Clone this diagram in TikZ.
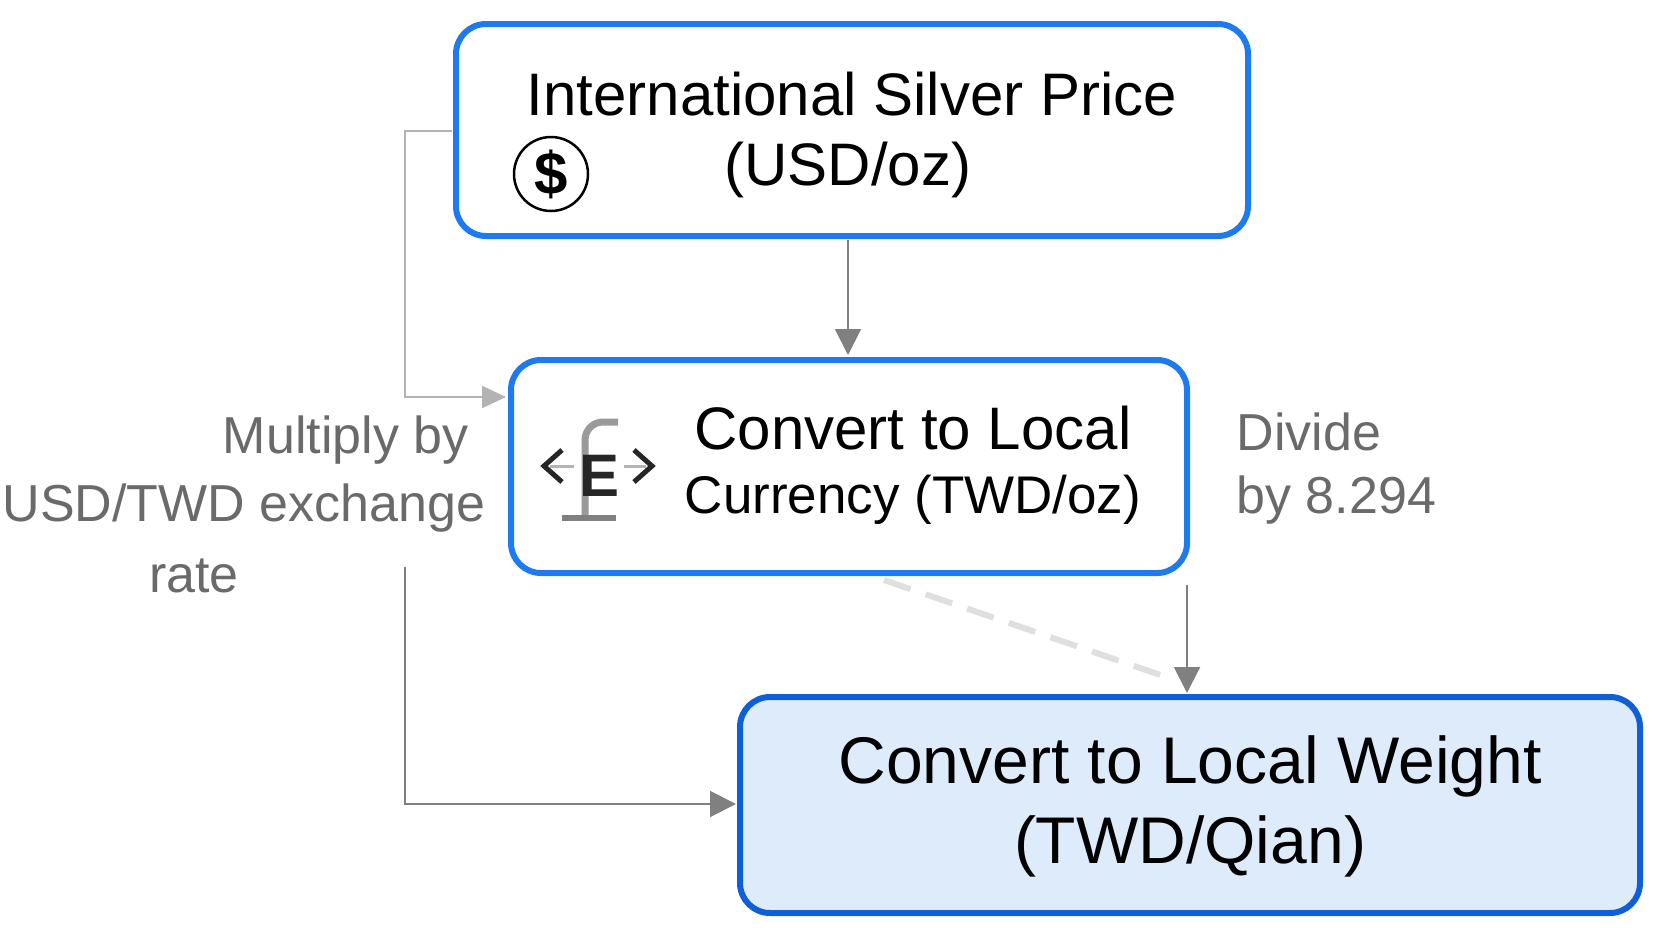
\documentclass[tikz,border=0pt]{standalone}
\usepackage{fontspec}
\setmainfont{Liberation Sans}
\usetikzlibrary{arrows.meta}
\definecolor{bblue}{HTML}{1E7BEF}
\definecolor{dblue}{HTML}{0E5FD8}
\definecolor{lfill}{HTML}{DDEBFA}
\definecolor{gline}{HTML}{808080}
\definecolor{gtext}{HTML}{6A6A6A}
\begin{document}
\begin{tikzpicture}[x=1pt,y=-1pt,
  box/.style={draw=bblue,line width=6pt,rounded corners=30pt,fill=white},
  conn/.style={draw=gline,line width=2pt,-{Triangle[length=26pt,width=26pt]}},
  lbl/.style={text=gtext,font=\fontsize{52}{64}\selectfont,align=center}]
\useasboundingbox (0,0) rectangle (1666,937);
\fill[white] (0,0) rectangle (1666,937);
% boxes
\path[box] (456,24) rectangle (1248,236);
\node (top) at (852,130) {};
\path[box] (511,360) rectangle (1187,573);
\node (mid) at (849,466) {};
\path[box,draw=dblue,fill=lfill] (740,697) rectangle (1640,913);
\node (bot) at (1190,805) {};
\coordinate (topS) at (848,240);
\coordinate (midN) at (848,355);
\coordinate (topW) at (452,131);
\coordinate (midW) at (506,397);
\coordinate (botW) at (736,804);
\coordinate (l1) at (405,131);
\coordinate (l2) at (405,397);
\coordinate (l3) at (405,567);
\coordinate (l4) at (405,804);
\coordinate (r1) at (1187,585);
\coordinate (r2) at (1187,693);
% texts
\node (t1) at (852,94) {\fontsize{60}{70}\selectfont International Silver Price};
\node (t2) at (848,170) {\fontsize{60}{70}\selectfont (USD/oz)};
\node[draw=black,line width=2.5pt,circle,minimum size=74pt,inner sep=0pt,font=\fontsize{60}{60}\selectfont\bfseries] (dol) at (551,174) {\$};
\node (m1) at (913,428) {\fontsize{60}{70}\selectfont Convert to Local};
\node (m2) at (913,500) {\fontsize{53}{64}\selectfont Currency (TWD/oz)};
\node (b1) at (1190,766) {\fontsize{66}{76}\selectfont Convert to Local Weight};
\node (b2) at (1190,846) {\fontsize{66}{76}\selectfont (TWD/Qian)};
% icon
\draw[gline!80,line width=7pt] (585,518) -- (585,440) arc (180:270:18) -- (618,422);
\draw[gline!60,line width=3pt] (550,466) -- (574,466) (624,466) -- (646,466);
\node[font=\fontsize{60}{60}\selectfont\bfseries,text=black!85] (eu) at (600,476) {E};
\draw[black!85,line width=5pt] (562,450) -- (544,466) -- (562,482);
\draw[black!85,line width=5pt] (634,450) -- (652,466) -- (634,482);
\draw[gline,line width=6pt] (562,518) -- (616,518);
% labels
\node[lbl,anchor=east] (la) at (472,440) {Multiply by};
\node[lbl] (lb) at (244,508) {USD/TWD exchange};
\node[lbl] (lc) at (194,576) {rate};
\node[lbl,anchor=west,align=left] (ld) at (1233,432) {Divide};
\node[lbl,anchor=west,align=left] (le) at (1233,500) {by 8.294};
% connectors
\draw[conn] (topS) -- (midN);
\draw[line width=2pt,gline!60,-{Triangle[length=24pt,width=22pt]}] (topW) -- (l1) -- (l2) -- (midW);
\draw[conn] (l3) -- (l4) -- (botW);
\draw[conn] (r1) -- (r2);
\draw[gline!25,line width=6pt,dash pattern=on 28pt off 16pt] (884,580) -- (1175,680);
\end{tikzpicture}
\end{document}
